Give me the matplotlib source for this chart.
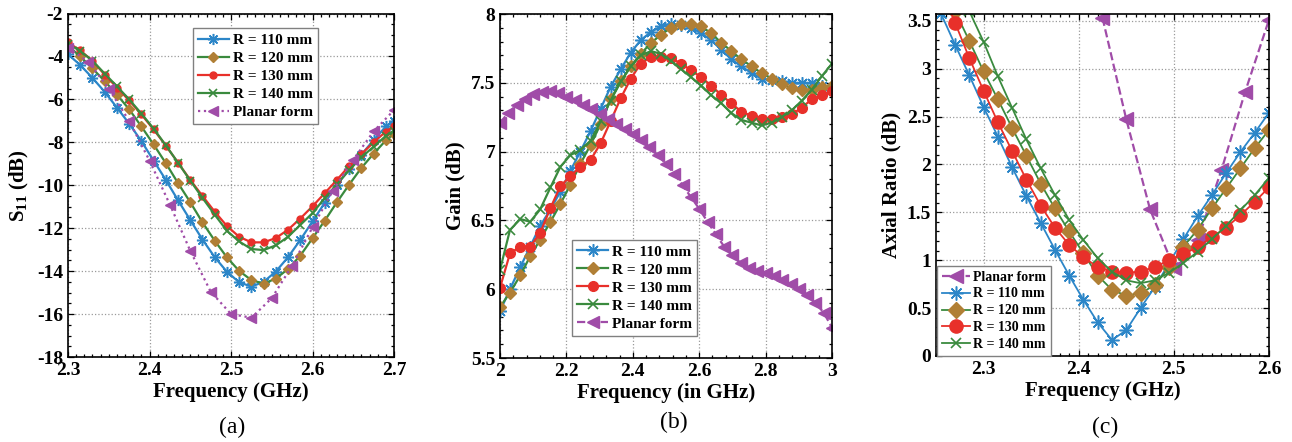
import matplotlib
matplotlib.use("Agg")
import matplotlib.pyplot as plt
from matplotlib.ticker import MultipleLocator, FuncFormatter

plt.rcParams['font.family'] = ['Liberation Serif', 'DejaVu Serif']
plt.rcParams['font.weight'] = 'bold'
plt.rcParams['axes.unicode_minus'] = False
plt.rcParams['mathtext.fontset'] = 'custom'
plt.rcParams['mathtext.rm'] = 'Liberation Serif:bold'
plt.rcParams['mathtext.bf'] = 'Liberation Serif:bold'
plt.rcParams['mathtext.it'] = 'Liberation Serif:bold'

# ---------------- data: (a) S11 ----------------
freq_a = [2.300, 2.315, 2.330, 2.345, 2.360, 2.375, 2.390, 2.405, 2.420, 2.435,
          2.450, 2.465, 2.480, 2.495, 2.510, 2.525, 2.540, 2.555, 2.570, 2.585,
          2.600, 2.615, 2.630, 2.645, 2.660, 2.675, 2.690, 2.700]
s11_110 = [-3.9, -4.4, -5.0, -5.65, -6.38, -7.13, -7.94, -8.85, -9.75, -10.7,
           -11.62, -12.53, -13.35, -14.03, -14.52, -14.72, -14.5, -14.02, -13.35, -12.55,
           -11.68, -10.82, -9.98, -9.25, -8.57, -7.9, -7.26, -7.0]
s11_120 = [-3.5, -4.0, -4.56, -5.15, -5.78, -6.46, -7.26, -8.1, -8.97, -9.9,
           -10.79, -11.73, -12.58, -13.36, -13.99, -14.42, -14.58, -14.35, -13.9, -13.28,
           -12.47, -11.65, -10.79, -9.97, -9.19, -8.53, -7.91, -7.6]
s11_130 = [-3.35, -3.72, -4.2, -4.85, -5.45, -6.05, -6.7, -7.4, -8.15, -8.95,
           -9.75, -10.5, -11.23, -11.9, -12.4, -12.66, -12.66, -12.46, -12.07, -11.55,
           -10.98, -10.37, -9.75, -9.1, -8.55, -8.0, -7.5, -7.25]
s11_140 = [-3.4, -3.75, -4.2, -4.8, -5.39, -6.0, -6.66, -7.36, -8.14, -8.95,
           -9.78, -10.59, -11.37, -12.12, -12.62, -12.97, -13.02, -12.8, -12.4, -11.85,
           -11.3, -10.6, -9.95, -9.3, -8.7, -8.2, -7.7, -7.45]
freq_a_planar = [2.300, 2.325, 2.350, 2.375, 2.400, 2.425, 2.450, 2.475, 2.500,
                 2.525, 2.550, 2.575, 2.600, 2.625, 2.650, 2.675, 2.700]
s11_planar = [-3.6, -4.25, -5.5, -7.0, -8.85, -10.9, -13.05, -14.95, -16.0,
              -16.17, -15.26, -13.75, -11.96, -10.25, -8.81, -7.49, -6.5]

# ---------------- data: (b) Gain ----------------
freq_b = [2.000, 2.030, 2.061, 2.091, 2.121, 2.152, 2.182, 2.212, 2.242, 2.273,
          2.303, 2.333, 2.364, 2.394, 2.424, 2.455, 2.485, 2.515, 2.545, 2.576,
          2.606, 2.636, 2.667, 2.697, 2.727, 2.758, 2.788, 2.818, 2.848, 2.879,
          2.909, 2.939, 2.970, 3.000]
gain_110 = [5.84, 6.0, 6.16, 6.31, 6.46, 6.58, 6.71, 6.86, 7.0, 7.15,
            7.31, 7.47, 7.6, 7.72, 7.81, 7.87, 7.91, 7.93, 7.92, 7.90,
            7.86, 7.81, 7.74, 7.67, 7.62, 7.57, 7.53, 7.52, 7.51, 7.5,
            7.5, 7.5, 7.48, 7.46]
gain_120 = [5.87, 5.975, 6.10, 6.24, 6.36, 6.49, 6.62, 6.76, 6.91, 7.05,
            7.2, 7.38, 7.51, 7.62, 7.71, 7.79, 7.85, 7.9, 7.93, 7.93,
            7.91, 7.86, 7.79, 7.73, 7.67, 7.62, 7.57, 7.53, 7.49, 7.46,
            7.45, 7.45, 7.47, 7.48]
gain_130 = [6.01, 6.26, 6.31, 6.31, 6.41, 6.59, 6.75, 6.82, 6.89, 6.94,
            7.06, 7.22, 7.39, 7.53, 7.64, 7.69, 7.69, 7.68, 7.64, 7.59,
            7.54, 7.48, 7.41, 7.35, 7.29, 7.26, 7.24, 7.24, 7.25, 7.27,
            7.32, 7.38, 7.41, 7.44]
gain_140 = [6.14, 6.43, 6.51, 6.49, 6.58, 6.74, 6.89, 6.975, 7.01, 7.08,
            7.22, 7.37, 7.51, 7.62, 7.70, 7.73, 7.71, 7.66, 7.6, 7.54,
            7.48, 7.41, 7.35, 7.28, 7.23, 7.21, 7.19, 7.21, 7.25, 7.30,
            7.37, 7.45, 7.55, 7.64]
freq_b_planar = [2.000, 2.025, 2.050, 2.075, 2.100, 2.125, 2.150, 2.175, 2.200, 2.225,
                 2.250, 2.275, 2.300, 2.325, 2.350, 2.375, 2.400, 2.425, 2.450, 2.475,
                 2.500, 2.525, 2.550, 2.575, 2.600, 2.625, 2.650, 2.675, 2.700, 2.725,
                 2.750, 2.775, 2.800, 2.825, 2.850, 2.875, 2.900, 2.925, 2.950, 2.975,
                 3.000]
gain_planar = [7.21, 7.28, 7.34, 7.385, 7.42, 7.435, 7.44, 7.425, 7.40, 7.375,
               7.34, 7.31, 7.27, 7.235, 7.20, 7.165, 7.125, 7.085, 7.035, 6.975,
               6.91, 6.84, 6.755, 6.67, 6.585, 6.49, 6.40, 6.31, 6.245, 6.19,
               6.155, 6.135, 6.115, 6.095, 6.07, 6.04, 6.0, 5.955, 5.9, 5.83,
               5.72]

# ---------------- data: (c) Axial ratio ----------------
freq_c = [2.255, 2.270, 2.285, 2.300, 2.315, 2.330, 2.345, 2.360, 2.375, 2.390,
          2.405, 2.420, 2.435, 2.450, 2.465, 2.480, 2.495, 2.510, 2.525, 2.540,
          2.555, 2.570, 2.585, 2.600]
ar_110 = [3.58, 3.25, 2.93, 2.60, 2.29, 1.97, 1.67, 1.39, 1.11, 0.84,
          0.585, 0.35, 0.167, 0.27, 0.50, 0.72, 0.97, 1.22, 1.46, 1.68,
          1.91, 2.13, 2.33, 2.54]
ar_120 = [3.95, 3.6, 3.29, 2.97, 2.68, 2.38, 2.09, 1.80, 1.54, 1.30,
          1.07, 0.84, 0.69, 0.63, 0.655, 0.74, 0.93, 1.14, 1.32, 1.54,
          1.75, 1.96, 2.17, 2.36]
ar_130 = [3.85, 3.48, 3.11, 2.77, 2.44, 2.14, 1.84, 1.57, 1.34, 1.16,
          1.03, 0.93, 0.88, 0.87, 0.88, 0.93, 1.0, 1.06, 1.14, 1.24,
          1.34, 1.47, 1.61, 1.76]
ar_140 = [4.3, 3.95, 3.6, 3.28, 2.92, 2.59, 2.26, 1.96, 1.68, 1.42,
          1.21, 1.02, 0.88, 0.79, 0.76, 0.79, 0.87, 0.97, 1.09, 1.22,
          1.36, 1.52, 1.68, 1.86]
freq_c_planar = [2.425, 2.450, 2.475, 2.500, 2.525, 2.550, 2.575, 2.600]
ar_planar = [3.53, 2.47, 1.53, 0.92, 1.21, 1.94, 2.76, 3.51]

labels_r = ['R = 110 mm', 'R = 120 mm', 'R = 130 mm', 'R = 140 mm']
label_planar = 'Planar form'

# ---------------- styles ----------------
C_BLUE = '#2C86C8'
C_GREEN = '#3A8A3E'
C_BROWN = '#B07F35'
C_RED = '#E8302A'
C_PURPLE = '#A04CA8'
AST = (8, 2, 0)   # MATLAB-like asterisk

W, H = 1292, 442
fig = plt.figure(figsize=(W / 100, H / 100), dpi=100)


def px_axes(l, t, r, b):
    return fig.add_axes([l / W, 1 - b / H, (r - l) / W, (b - t) / H])


fmt = FuncFormatter(lambda v, p: '%g' % round(v, 3))


def style_axes(ax, xmaj, xmin, ymaj, ymin):
    ax.xaxis.set_major_locator(MultipleLocator(xmaj))
    ax.xaxis.set_minor_locator(MultipleLocator(xmin))
    ax.yaxis.set_major_locator(MultipleLocator(ymaj))
    ax.yaxis.set_minor_locator(MultipleLocator(ymin))
    ax.xaxis.set_major_formatter(fmt)
    ax.yaxis.set_major_formatter(fmt)
    ax.tick_params(which='both', direction='in', top=True, right=True,
                   labelsize=14, width=0.9)
    ax.tick_params(which='major', length=4.5)
    ax.tick_params(which='minor', length=2.2)
    for s in ax.spines.values():
        s.set_linewidth(1.2)
    ax.grid(True, which='major', linestyle=':', color='#9a9a9a', linewidth=0.9)
    ax.set_axisbelow(True)
    for lab in ax.get_xticklabels() + ax.get_yticklabels():
        lab.set_fontweight('bold')


def legend(ax, handles, labels, fs, **kw):
    lg = ax.legend(handles, labels, prop={'weight': 'bold', 'size': fs},
                   fancybox=False, framealpha=1, edgecolor='#808080',
                   borderaxespad=0, handlelength=2.0, handletextpad=0.25,
                   labelspacing=0.28, borderpad=0.35, **kw)
    lg.get_frame().set_linewidth(1.0)
    return lg


# ---------------- (a) ----------------
ax = px_axes(68, 13.5, 394, 357)
lw = 1.6
h1, = ax.plot(freq_a, s11_110, '-', color=C_BLUE, lw=lw, marker=AST, ms=8, mew=1.1)
h2, = ax.plot(freq_a, s11_120, '-', color=C_GREEN, lw=lw, marker='D', ms=5.5,
              mfc=C_BROWN, mec=C_BROWN)
h3, = ax.plot(freq_a, s11_130, '-', color=C_RED, lw=lw, marker='o', ms=5)
h4, = ax.plot(freq_a, s11_140, '-', color=C_GREEN, lw=lw, marker='x', ms=5.5, mew=1.2)
h5, = ax.plot(freq_a_planar, s11_planar, ':', color=C_PURPLE, lw=1.6, marker='<', ms=7)
ax.set_xlim(2.3, 2.7)
ax.set_ylim(-18, -2)
style_axes(ax, 0.1, 0.01, 2, 0.5)
ax.set_xlabel('Frequency (GHz)', fontsize=15, fontweight='bold', labelpad=2)
ax.set_ylabel(r'S$_{11}$ (dB)', fontsize=15, fontweight='bold', labelpad=4)
legend(ax, [h1, h2, h3, h4, h5], labels_r + [label_planar], 11,
       loc='upper left', bbox_to_anchor=(0.383, 0.958))
fig.text(232 / W, 1 - 427 / H, '(a)', fontsize=17, fontweight='normal',
         ha='center', va='center')

# ---------------- (b) ----------------
ax = px_axes(500, 14, 832, 358)
h1, = ax.plot(freq_b, gain_110, '-', color=C_BLUE, lw=lw, marker=AST, ms=9, mew=1.1)
h2, = ax.plot(freq_b, gain_120, '-', color=C_GREEN, lw=lw, marker='D', ms=6.5,
              mfc=C_BROWN, mec=C_BROWN)
h3, = ax.plot(freq_b, gain_130, '-', color=C_RED, lw=lw, marker='o', ms=7)
h4, = ax.plot(freq_b, gain_140, '-', color=C_GREEN, lw=lw, marker='x', ms=6.5, mew=1.2)
h5, = ax.plot(freq_b_planar, gain_planar, '--', color=C_PURPLE, lw=1.6, marker='<', ms=8)
ax.set_xlim(2, 3)
ax.set_ylim(5.5, 8)
style_axes(ax, 0.2, 0.04, 0.5, 0.1)
ax.set_xlabel('Frequency (in GHz)', fontsize=15, fontweight='bold', labelpad=2)
ax.set_ylabel('Gain (dB)', fontsize=15, fontweight='bold', labelpad=4)
legend(ax, [h1, h2, h3, h4, h5], labels_r + [label_planar], 11,
       loc='lower left', bbox_to_anchor=(0.217, 0.064))
fig.text(674 / W, 1 - 422 / H, '(b)', fontsize=17, fontweight='normal',
         ha='center', va='center')

# ---------------- (c) ----------------
ax = px_axes(936, 14, 1269, 356)
h5, = ax.plot(freq_c_planar, ar_planar, '--', color=C_PURPLE, lw=1.6, marker='<', ms=10)
h1, = ax.plot(freq_c, ar_110, '-', color=C_BLUE, lw=1.3, marker=AST, ms=10, mew=1.1)
h2, = ax.plot(freq_c, ar_120, '-', color=C_GREEN, lw=1.3, marker='D', ms=8.5,
              mfc=C_BROWN, mec=C_BROWN)
h3, = ax.plot(freq_c, ar_130, '-', color=C_RED, lw=1.3, marker='o', ms=9.5)
h4, = ax.plot(freq_c, ar_140, '-', color=C_GREEN, lw=1.3, marker='x', ms=7, mew=1.2)
ax.set_xlim(2.25, 2.6)
ax.set_ylim(0, 3.57)
style_axes(ax, 0.1, 0.01, 0.5, 0.1)
ax.set_xlabel('Frequency (GHz)', fontsize=15, fontweight='bold', labelpad=2)
ax.set_ylabel('Axial Ratio (dB)', fontsize=15, fontweight='bold', labelpad=4)
legend(ax, [h5, h1, h2, h3, h4], [label_planar] + labels_r, 10,
       loc='lower left', bbox_to_anchor=(0.004, 0.0))
fig.text(1105 / W, 1 - 427 / H, '(c)', fontsize=17, fontweight='normal',
         ha='center', va='center')

fig.savefig('out.png', dpi=100)
